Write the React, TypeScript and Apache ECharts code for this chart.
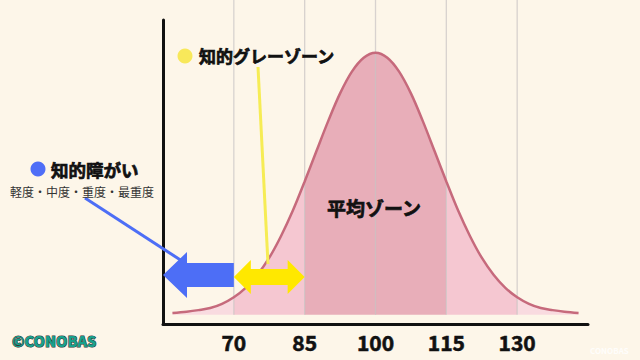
import React, { useEffect, useRef } from "react";
import * as echarts from "echarts";

// IQ values along the x axis and the curve heights
const xValues = [57, 60, 62.5, 65, 67.5, 70, 72.5, 75, 77.5, 80, 82.5, 85, 87.5, 90, 92.5, 95, 97.5, 100, 102.5, 105, 107.5, 110, 112.5, 115, 117.5, 120, 122.5, 125, 127.5, 130, 132.5, 135, 137.5, 140, 143];
const yValues = [0.7, 1.2, 1.8, 2.6, 4.2, 6.7, 10.3, 15.3, 21.8, 30.1, 39.8, 50.9, 62.5, 74.0, 84.5, 92.8, 98.1, 100, 98.1, 92.8, 84.5, 74.0, 62.5, 50.9, 39.8, 30.1, 21.8, 15.3, 10.3, 6.7, 4.2, 2.6, 1.8, 1.2, 0.7];
const tickLabels = [70, 85, 100, 115, 130];
const bandEdges = [55, 70, 85, 115, 130, 145];
const bandColors = ["#f9dbe0", "#f5c7d1", "#e8aeb9", "#f5c7d1", "#f9dbe0"];
const disabilityRange = [55, 70];
const grayZoneRange = [70, 85];

const FONT = '"Noto Sans CJK JP", "Noto Sans", sans-serif';

export default function App() {
  const ref = useRef<HTMLDivElement>(null);

  useEffect(() => {
    if (!ref.current) return;
    const chart = echarts.init(ref.current, undefined, { renderer: "svg" });
    const points = xValues.map((x, i) => [x, yValues[i]]);

    const bandSeries = bandColors.map((color, i) => ({
      type: "line",
      data: points.filter((p) => p[0] >= bandEdges[i] && p[0] <= bandEdges[i + 1]),
      smooth: 0.35,
      symbol: "none",
      lineStyle: { width: 0, opacity: 0 },
      areaStyle: { color, opacity: 1 },
      silent: true,
      z: 2,
    }));

    chart.setOption({
      animation: false,
      backgroundColor: "#fdf6e9",
      grid: { left: 163, right: 52, top: 20, bottom: 36 },
      xAxis: {
        type: "value",
        min: 55,
        max: 145,
        interval: 15,
        axisLine: { onZero: false, lineStyle: { color: "#111", width: 3 } },
        axisTick: { show: false },
        splitLine: { show: false },
        axisLabel: {
          formatter: (v: number) => (tickLabels.includes(v) ? String(v) : ""),
          fontSize: 21,
          fontWeight: "bold",
          color: "#111",
          textBorderColor: "#111",
          textBorderWidth: 0.6,
          margin: 7,
          fontFamily: FONT,
        },
      },
      yAxis: {
        type: "value",
        min: -3.5,
        max: 112.5,
        axisLine: { show: true, onZero: false, lineStyle: { color: "#111", width: 3 } },
        axisTick: { show: false },
        axisLabel: { show: false },
        splitLine: { show: false },
      },
      series: [
        ...bandSeries,
        {
          type: "line",
          data: points,
          smooth: 0.35,
          symbol: "none",
          lineStyle: { color: "#c66a7c", width: 2.5 },
          silent: true,
          z: 5,
        },
      ],
    });

    const px = (x: number, y: number) => chart.convertToPixel({ gridIndex: 0 }, [x, y]) as number[];
    const baseY = px(100, 0)[1];

    const gridLines = tickLabels.map((v) => {
      const x = px(v, 0)[0];
      return {
        type: "line",
        z: 3,
        silent: true,
        shape: { x1: x, y1: 0, x2: x, y2: baseY },
        style: { stroke: "rgba(200,195,195,0.7)", lineWidth: 1.3 },
      };
    });

    // blue arrow (left of 70)
    const bx0 = px(disabilityRange[0], 0)[0];
    const bx1 = px(disabilityRange[1], 0)[0];
    const bcy = 275;
    const bh = bx0 + 24;
    const blueArrow = {
      type: "polygon",
      z: 11,
      shape: {
        points: [
          [bx0, bcy], [bh, bcy - 23], [bh, bcy - 12], [bx1, bcy - 12],
          [bx1, bcy + 12], [bh, bcy + 12], [bh, bcy + 23],
        ],
      },
      style: { fill: "#4d6ef6" },
    };

    // yellow double arrow (70-85)
    const yx0 = px(grayZoneRange[0], 0)[0];
    const yx1 = px(grayZoneRange[1], 0)[0];
    const ycy = 277;
    const hl = 17;
    const yellowArrow = {
      type: "polygon",
      z: 11,
      shape: {
        points: [
          [yx0, ycy], [yx0 + hl, ycy - 17], [yx0 + hl, ycy - 8], [yx1 - hl, ycy - 8],
          [yx1 - hl, ycy - 17], [yx1, ycy], [yx1 - hl, ycy + 17], [yx1 - hl, ycy + 8],
          [yx0 + hl, ycy + 8], [yx0 + hl, ycy + 17],
        ],
      },
      style: { fill: "#ffe800" },
    };

    const text = (t: string, x: number, y: number, size: number, weight: string, fill: string, extra: any = {}) => ({
      type: "text",
      z: 12,
      x,
      y,
      style: {
        text: t,
        fontSize: size,
        fontWeight: weight,
        fontFamily: FONT,
        fill,
        align: "left",
        verticalAlign: "middle",
        ...extra,
      },
    });
    const heavy = { stroke: "#111", lineWidth: 0.7 };

    chart.setOption({
      graphic: [
        ...gridLines,
        {
          type: "line",
          z: 10,
          shape: { x1: 85, y1: 198, x2: 182, y2: 261 },
          style: { stroke: "#4d6ef6", lineWidth: 3 },
        },
        {
          type: "line",
          z: 10,
          shape: { x1: 258, y1: 67, x2: 268, y2: 264 },
          style: { stroke: "#f6ec55", lineWidth: 3 },
        },
        blueArrow,
        yellowArrow,
        { type: "circle", z: 12, shape: { cx: 38, cy: 169, r: 7.5 }, style: { fill: "#4f6ef7" } },
        text("知的障がい", 51, 169, 17.5, "bold", "#111", heavy),
        text("軽度・中度・重度・最重度", 10, 191, 12, "normal", "#333"),
        { type: "circle", z: 12, shape: { cx: 185, cy: 56, r: 7.5 }, style: { fill: "#f8e85a" } },
        text("知的グレーゾーン", 199, 55, 17, "bold", "#111", heavy),
        text("平均ゾーン", 327, 207, 19, "bold", "#111", heavy),
        text("©CONOBAS", 12, 340, 14.5, "900", "#17a08c", { stroke: "#333", lineWidth: 1 }),
        text("CONOBAS", 590, 350, 8, "bold", "rgba(255,255,255,0.85)"),
      ],
    });

    return () => chart.dispose();
  }, []);

  return (
    <div
      ref={ref}
      style={{ position: "fixed", left: 0, top: 0, width: 640, height: 360, background: "#fdf6e9" }}
    />
  );
}
